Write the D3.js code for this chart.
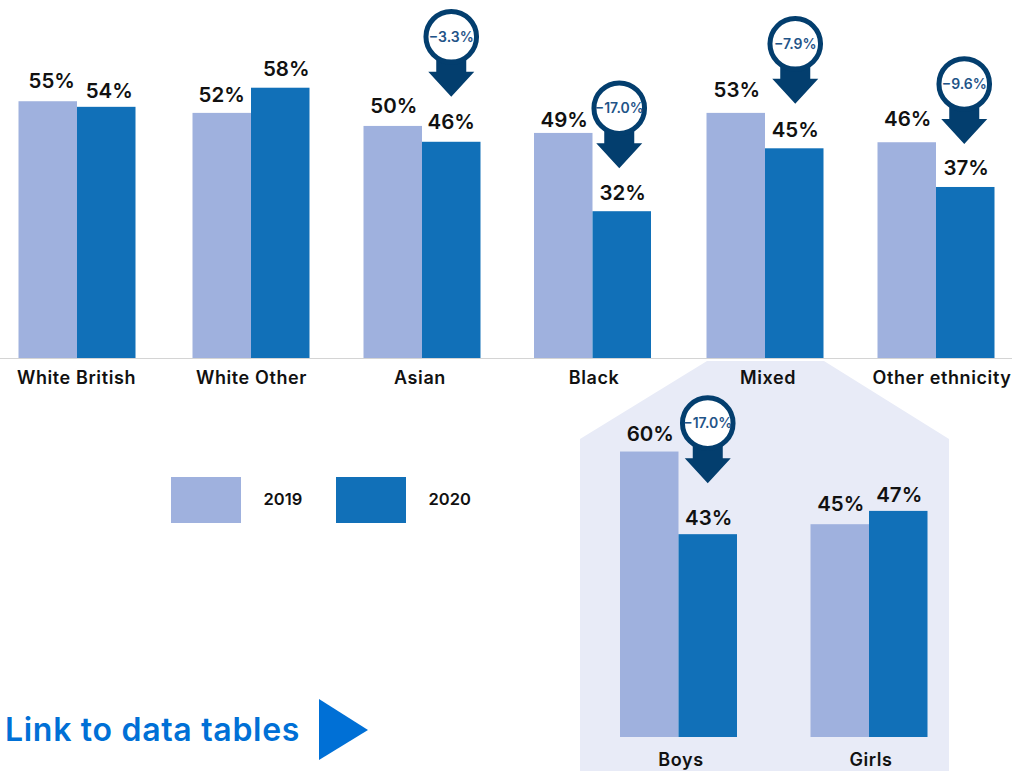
<!DOCTYPE html>
<html><head><meta charset="utf-8">
<script src="https://cdn.jsdelivr.net/npm/d3@7"></script>
<style>html,body{margin:0;padding:0;background:#fff}svg{display:block}text{font-family:Inter,"Noto Sans",sans-serif}</style>
</head><body><div id="c"></div>
<script>
const years = ["2019","2020"];
const categories = ["White British","White Other","Asian","Black","Mixed","Other ethnicity"];
const values2019 = [55.1,52.6,49.8,48.3,52.6,46.3];
const values2020 = [53.9,58,46.4,31.5,45,36.7];
const labels2019 = ["55%","52%","50%","49%","53%","46%"];
const labels2020 = ["54%","58%","46%","32%","45%","37%"];
const drops = [null,null,"−3.3%","−17.0%","−7.9%","−9.6%"];
const insetCategories = ["Boys","Girls"];
const inset2019 = [60.1,44.8];
const inset2020 = [42.7,47.6];
const insetLabels2019 = ["60%","45%"];
const insetLabels2020 = ["43%","47%"];
const insetDrops = ["−17.0%",null];

// hand-placed label and callout nudges of the original layout (px)
const gapMain = [[13.3,9.3],[11.3,11.5],[12.5,12.7],[6,11],[15.5,11],[16.5,11.5]];
const dxMain = [[4,3],[0,6],[1,0],[1,1],[1,1],[1,1]];
const gapInset = [[11,9],[13,9]];
const dxInset = [[1,1],[1,1]];
const dropMain = [null,null,[0,45],[-2.5,43],[1,44.5],[-1,43]];
const dropInset = [[0,51],null];

const W=1012,H=771;
const svg=d3.select("#c").append("svg").attr("width",W).attr("height",H);
const col=d3.scaleOrdinal().domain(years).range(["#9fb1de","#1170b8"]);
const navy="#033e6e", link="#0070d6", ink="#111";

const y=d3.scaleLinear().domain([0,100]).range([358,-108]);
const x=d3.scaleOrdinal().domain(categories).range([77,251,422,592.5,765,936]);
const xLabel=d3.scaleOrdinal().domain(categories).range([76.5,251.5,420,594,768,942]);
const yi=d3.scaleLinear().domain([0,100]).range([737,262]);
const xi=d3.scaleOrdinal().domain(insetCategories).range([678.5,869]);
const xiLabel=d3.scaleOrdinal().domain(insetCategories).range([681,871]);
const bw=58.5;

svg.append("path").attr("d",d3.line()([[707,361],[824,361],[949,439],[949,771],[580,771],[580,439]])+"Z").attr("fill","#e8ebf7");

function group(o){
  o.cats.forEach((c,i)=>{
    const cx=o.xs(c);
    [[o.a[i],o.la[i],cx-bw,years[0],0],[o.b[i],o.lb[i],cx,years[1],1]].forEach(([v,t,bx,yr,k])=>{
      svg.append("rect").attr("x",bx).attr("y",o.ys(v)).attr("width",bw).attr("height",o.ys(0)-o.ys(v)).attr("fill",col(yr));
      svg.append("text").attr("x",bx+bw/2+o.dx[i][k]).attr("y",o.ys(v)-o.gap[i][k]).attr("text-anchor","middle")
        .attr("font-size",20.5).attr("font-weight",600).attr("fill",ink).text(t);
    });
    svg.append("text").attr("x",o.xl(c)).attr("y",o.labelY).attr("text-anchor","middle")
      .attr("font-size",18).attr("letter-spacing",0.6).attr("font-weight",600).attr("fill",ink).text(c);
    if(o.d[i]){
      const ax=cx+bw/2+o.drop[i][0], tip=o.ys(o.b[i])-o.drop[i][1];
      const g=svg.append("g").attr("transform",`translate(${ax},${tip})`);
      g.append("path").attr("d",d3.line()([[-15,-40],[15,-40],[15,-25],[23,-25],[0,0],[-23,-25],[-15,-25]])+"Z").attr("fill",navy);
      g.append("circle").attr("cy",-60).attr("r",25.3).attr("fill","#fff").attr("stroke",navy).attr("stroke-width",5);
      g.append("text").attr("y",-55).attr("text-anchor","middle").attr("font-size",14).attr("font-weight",600).attr("fill","#1f5488").text(o.d[i]);
    }
  });
}
group({cats:categories,xs:x,xl:xLabel,ys:y,a:values2019,b:values2020,la:labels2019,lb:labels2020,d:drops,gap:gapMain,dx:dxMain,drop:dropMain,labelY:384});
svg.append("line").attr("x1",0).attr("x2",W).attr("y1",358.5).attr("y2",358.5).attr("stroke","#d4d4d4").attr("stroke-width",1);
group({cats:insetCategories,xs:xi,xl:xiLabel,ys:yi,a:inset2019,b:inset2020,la:insetLabels2019,lb:insetLabels2020,d:insetDrops,gap:gapInset,dx:dxInset,drop:dropInset,labelY:766});

const lx=d3.scaleOrdinal().domain(years).range([171,336]);
years.forEach(yr=>{
  svg.append("rect").attr("x",lx(yr)).attr("y",477).attr("width",70).attr("height",46).attr("fill",col(yr));
  svg.append("text").attr("x",lx(yr)+92.5).attr("y",504.5).attr("font-size",16.5).attr("font-weight",600).attr("fill",ink).text(yr);
});

svg.append("text").attr("x",5).attr("y",741).attr("font-size",32).attr("letter-spacing",0.7).attr("font-weight",600).attr("fill",link).text("Link to data tables");
svg.append("path").attr("d",d3.line()([[319,699],[368,730],[319,760]])+"Z").attr("fill",link);
</script></body></html>
